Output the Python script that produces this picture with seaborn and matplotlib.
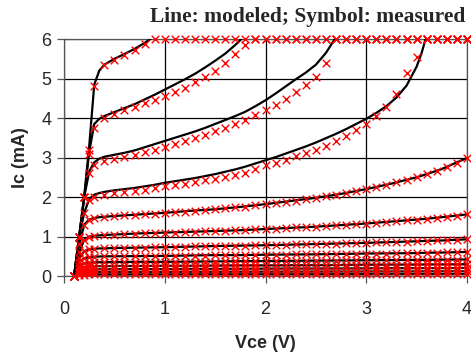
import pandas as pd
import seaborn as sns
import matplotlib.pyplot as plt

# measured sweep (symbols)
vce_meas = [0.1, 0.15, 0.2, 0.25, 0.3,
            0.4, 0.5, 0.6, 0.7, 0.8, 0.9, 1.0, 1.1, 1.2, 1.3,
            1.4, 1.5, 1.6, 1.7, 1.8, 1.9, 2.0, 2.1, 2.2, 2.3,
            2.4, 2.5, 2.6, 2.7, 2.8, 2.9, 3.0, 3.1, 3.2, 3.3,
            3.4, 3.5, 3.6, 3.7, 3.8, 3.9, 4.0]

ic_meas_1 = [0.0, 1.0, 2.0, 3.2, 4.8,
             5.35, 5.48, 5.6, 5.72, 5.88, 6.0, 6.0, 6.0, 6.0, 6.0,
             6.0, 6.0, 6.0, 6.0, 6.0, 6.0, 6.0, 6.0, 6.0, 6.0,
             6.0, 6.0, 6.0, 6.0, 6.0, 6.0, 6.0, 6.0, 6.0, 6.0,
             6.0, 6.0, 6.0, 6.0, 6.0, 6.0, 6.0]
ic_meas_2 = [0.0, 1.0, 2.0, 3.1, 3.75,
             4.0, 4.1, 4.2, 4.28, 4.37, 4.46, 4.56, 4.66, 4.77, 4.9,
             5.03, 5.2, 5.4, 5.62, 5.85, 6.0, 6.0, 6.0, 6.0, 6.0,
             6.0, 6.0, 6.0, 6.0, 6.0, 6.0, 6.0, 6.0, 6.0, 6.0,
             6.0, 6.0, 6.0, 6.0, 6.0, 6.0, 6.0]
ic_meas_3 = [0.0, 1.0, 2.0, 2.6, 2.8,
             2.92, 2.97, 3.02, 3.07, 3.13, 3.2, 3.27, 3.34, 3.42, 3.5,
             3.58, 3.67, 3.76, 3.86, 3.96, 4.07, 4.2, 4.33, 4.48, 4.65,
             4.83, 5.05, 5.4, 6.0, 6.0, 6.0, 6.0, 6.0, 6.0, 6.0,
             6.0, 6.0, 6.0, 6.0, 6.0, 6.0, 6.0]
ic_meas_4 = [0.0, 1.0, 1.6, 1.92, 2.0,
             2.06, 2.1, 2.13, 2.16, 2.19, 2.23, 2.27, 2.3, 2.34, 2.38,
             2.42, 2.46, 2.5, 2.55, 2.61, 2.7, 2.8, 2.87, 2.95, 3.03,
             3.11, 3.2, 3.3, 3.42, 3.55, 3.7, 3.85, 4.05, 4.28, 4.62,
             5.15, 5.55, 6.0, 6.0, 6.0, 6.0, 6.0]
ic_meas_5 = [0.0, 0.8, 1.3, 1.43, 1.47,
             1.5, 1.52, 1.54, 1.55, 1.57, 1.58, 1.6, 1.61, 1.63, 1.65,
             1.67, 1.69, 1.71, 1.74, 1.76, 1.79, 1.82, 1.85, 1.88, 1.91,
             1.95, 1.98, 2.02, 2.06, 2.11, 2.15, 2.2, 2.25, 2.31, 2.37,
             2.43, 2.5, 2.58, 2.66, 2.76, 2.87, 2.99]
ic_meas_6 = [0.0, 0.6, 0.92, 1.0, 1.02,
             1.04, 1.05, 1.06, 1.07, 1.08, 1.09, 1.1, 1.1, 1.11, 1.12,
             1.13, 1.14, 1.15, 1.16, 1.17, 1.18, 1.19, 1.2, 1.21, 1.23,
             1.24, 1.25, 1.27, 1.28, 1.3, 1.31, 1.33, 1.35, 1.37, 1.39,
             1.41, 1.43, 1.45, 1.48, 1.5, 1.53, 1.56]
ic_meas_7 = [0.0, 0.45, 0.63, 0.68, 0.69,
             0.7, 0.71, 0.71, 0.72, 0.72, 0.73, 0.73, 0.74, 0.74, 0.75,
             0.75, 0.76, 0.76, 0.77, 0.77, 0.78, 0.78, 0.79, 0.79, 0.8,
             0.8, 0.81, 0.82, 0.82, 0.83, 0.84, 0.84, 0.85, 0.86, 0.87,
             0.87, 0.88, 0.89, 0.9, 0.91, 0.92, 0.93]
ic_meas_8 = [0.0, 0.35, 0.45, 0.48, 0.49,
             0.5, 0.5, 0.5, 0.51, 0.51, 0.51, 0.51, 0.52, 0.52, 0.52,
             0.52, 0.53, 0.53, 0.53, 0.53, 0.54, 0.54, 0.54, 0.54, 0.55,
             0.55, 0.55, 0.55, 0.56, 0.56, 0.56, 0.57, 0.57, 0.57, 0.58,
             0.58, 0.58, 0.59, 0.59, 0.6, 0.6, 0.61]
ic_meas_9 = [0.0, 0.26, 0.32, 0.34, 0.345,
             0.35, 0.35, 0.35, 0.355, 0.355, 0.355, 0.36, 0.36, 0.36, 0.365,
             0.365, 0.365, 0.37, 0.37, 0.375, 0.375, 0.38, 0.38, 0.38, 0.385,
             0.385, 0.39, 0.39, 0.39, 0.395, 0.395, 0.4, 0.4, 0.4, 0.405,
             0.405, 0.41, 0.41, 0.41, 0.415, 0.415, 0.42]
ic_meas_10 = [0.0, 0.19, 0.23, 0.245, 0.25,
              0.25, 0.25, 0.252, 0.254, 0.255, 0.256, 0.258, 0.26, 0.26, 0.262,
              0.264, 0.265, 0.266, 0.268, 0.27, 0.27, 0.272, 0.274, 0.275, 0.276,
              0.278, 0.28, 0.28, 0.282, 0.284, 0.285, 0.286, 0.288, 0.29, 0.29,
              0.292, 0.294, 0.295, 0.296, 0.298, 0.299, 0.3]
ic_meas_11 = [0.0, 0.13, 0.16, 0.165, 0.17,
              0.17, 0.17, 0.172, 0.173, 0.174, 0.175, 0.176, 0.177, 0.178, 0.179,
              0.18, 0.181, 0.182, 0.183, 0.184, 0.185, 0.186, 0.187, 0.188, 0.189,
              0.19, 0.19, 0.191, 0.192, 0.193, 0.194, 0.195, 0.196, 0.197, 0.198,
              0.199, 0.2, 0.2, 0.201, 0.202, 0.203, 0.205]
ic_meas_12 = [0.0, 0.08, 0.095, 0.1, 0.1,
              0.1, 0.1, 0.101, 0.102, 0.102, 0.103, 0.104, 0.104, 0.105, 0.106,
              0.106, 0.107, 0.108, 0.108, 0.109, 0.11, 0.11, 0.111, 0.111, 0.112,
              0.112, 0.113, 0.113, 0.114, 0.114, 0.115, 0.115, 0.116, 0.116, 0.117,
              0.117, 0.118, 0.118, 0.119, 0.119, 0.12, 0.12]
ic_meas_13 = [0.0, 0.03, 0.038, 0.04, 0.04,
              0.04, 0.04, 0.04, 0.041, 0.041, 0.041, 0.042, 0.042, 0.042, 0.043,
              0.043, 0.043, 0.044, 0.044, 0.044, 0.045, 0.045, 0.045, 0.045, 0.046,
              0.046, 0.046, 0.046, 0.047, 0.047, 0.047, 0.047, 0.048, 0.048, 0.048,
              0.048, 0.049, 0.049, 0.049, 0.049, 0.05, 0.05]

# model curves (lines); the upper four get their own, finer sweeps
vce_model_1 = [0.1, 0.15, 0.2, 0.25, 0.3, 0.35, 0.4, 0.5, 0.6, 0.7, 0.8, 0.9, 1.0]
ic_model_1 = [0.0, 1.0, 2.0, 3.3, 4.85, 5.2, 5.35, 5.5, 5.62, 5.75, 5.9, 6.08, 6.25]

vce_model_2 = [0.1, 0.15, 0.2, 0.25, 0.3, 0.35, 0.4, 0.5, 0.6, 0.7, 0.8, 0.9, 1.0,
               1.1, 1.2, 1.3, 1.4, 1.5, 1.6, 1.7, 1.8, 1.9]
ic_model_2 = [0.0, 1.0, 2.0, 3.15, 3.85, 3.98, 4.05, 4.15, 4.25, 4.35, 4.47, 4.59, 4.72,
              4.85, 4.98, 5.12, 5.28, 5.45, 5.63, 5.85, 6.1, 6.4]

vce_model_3 = [0.1, 0.15, 0.2, 0.25, 0.3, 0.35, 0.4, 0.5, 0.6, 0.7, 0.8, 0.9, 1.0,
               1.1, 1.2, 1.3, 1.4, 1.5, 1.6, 1.7, 1.8, 1.9, 2.0, 2.1, 2.2, 2.3,
               2.4, 2.5, 2.6, 2.7, 2.8]
ic_model_3 = [0.0, 1.0, 2.0, 2.65, 2.88, 2.97, 3.02, 3.07, 3.12, 3.18, 3.26, 3.34, 3.42,
              3.5, 3.58, 3.66, 3.75, 3.85, 3.95, 4.05, 4.16, 4.3, 4.45, 4.62, 4.8, 4.98,
              5.15, 5.35, 5.65, 6.05, 6.5]

vce_model_4 = [0.1, 0.15, 0.2, 0.25, 0.3, 0.35, 0.4, 0.5, 0.6, 0.7, 0.8, 0.9, 1.0,
               1.1, 1.2, 1.3, 1.4, 1.5, 1.6, 1.7, 1.8, 1.9, 2.0, 2.1, 2.2, 2.3,
               2.4, 2.5, 2.6, 2.7, 2.8, 2.9, 3.0, 3.1, 3.2, 3.3, 3.4, 3.5, 3.55, 3.6,
               3.65]
ic_model_4 = [0.0, 1.0, 1.6, 1.95, 2.06, 2.1, 2.13, 2.17, 2.2, 2.23, 2.27, 2.31, 2.36,
              2.4, 2.44, 2.48, 2.53, 2.58, 2.64, 2.7, 2.77, 2.85, 2.93, 3.01, 3.1, 3.19,
              3.28, 3.38, 3.49, 3.6, 3.72, 3.85, 3.98, 4.13, 4.3, 4.52, 4.82, 5.3, 5.65,
              6.1, 6.6]

vce_model = [0.1, 0.15, 0.2, 0.25, 0.3, 0.35, 0.4, 0.5, 0.75, 1.0, 1.25, 1.5,
             1.75, 2.0, 2.25, 2.5, 2.75, 3.0, 3.25, 3.5, 3.6, 3.75, 4.0]
ic_model_5 = [0.0, 0.8, 1.3, 1.43, 1.47, 1.49, 1.5, 1.52, 1.56, 1.6, 1.65, 1.69,
              1.75, 1.82, 1.9, 1.98, 2.08, 2.2, 2.34, 2.5, 2.58, 2.71, 2.99]
ic_model_6 = [0.0, 0.6, 0.92, 1.0, 1.02, 1.03, 1.04, 1.05, 1.08, 1.1, 1.12, 1.14,
              1.16, 1.19, 1.22, 1.25, 1.29, 1.33, 1.38, 1.43, 1.45, 1.49, 1.56]
ic_model_7 = [0.0, 0.45, 0.63, 0.68, 0.69, 0.7, 0.7, 0.71, 0.72, 0.73, 0.745, 0.76,
              0.77, 0.78, 0.795, 0.81, 0.825, 0.84, 0.86, 0.88, 0.89, 0.9, 0.93]
ic_model_8 = [0.0, 0.35, 0.45, 0.48, 0.49, 0.495, 0.5, 0.5, 0.505, 0.51, 0.52, 0.53,
              0.53, 0.54, 0.545, 0.55, 0.56, 0.57, 0.575, 0.58, 0.59, 0.595, 0.61]
ic_model_9 = [0.0, 0.26, 0.32, 0.34, 0.345, 0.35, 0.35, 0.355, 0.36, 0.36, 0.365, 0.37,
              0.375, 0.38, 0.385, 0.39, 0.395, 0.4, 0.405, 0.41, 0.41, 0.415, 0.42]
ic_model_10 = [0.0, 0.19, 0.23, 0.245, 0.25, 0.25, 0.25, 0.255, 0.255, 0.26, 0.26, 0.265,
               0.27, 0.27, 0.275, 0.28, 0.28, 0.285, 0.29, 0.29, 0.295, 0.295, 0.3]
ic_model_11 = [0.0, 0.13, 0.16, 0.165, 0.17, 0.17, 0.17, 0.172, 0.175, 0.177, 0.18, 0.182,
               0.185, 0.187, 0.19, 0.19, 0.192, 0.195, 0.197, 0.2, 0.2, 0.2, 0.205]
ic_model_12 = [0.0, 0.08, 0.095, 0.1, 0.1, 0.1, 0.1, 0.102, 0.104, 0.105, 0.107, 0.108,
               0.11, 0.111, 0.112, 0.113, 0.114, 0.115, 0.116, 0.117, 0.118, 0.119, 0.12]
ic_model_13 = [0.0, 0.03, 0.038, 0.04, 0.04, 0.04, 0.04, 0.041, 0.042, 0.042, 0.043, 0.044,
               0.044, 0.045, 0.045, 0.046, 0.046, 0.047, 0.047, 0.048, 0.048, 0.049, 0.05]

meas_curves = [ic_meas_1, ic_meas_2, ic_meas_3, ic_meas_4, ic_meas_5, ic_meas_6, ic_meas_7,
               ic_meas_8, ic_meas_9, ic_meas_10, ic_meas_11, ic_meas_12, ic_meas_13]
model_curves = [(vce_model_1, ic_model_1), (vce_model_2, ic_model_2),
                (vce_model_3, ic_model_3), (vce_model_4, ic_model_4),
                (vce_model, ic_model_5), (vce_model, ic_model_6), (vce_model, ic_model_7),
                (vce_model, ic_model_8), (vce_model, ic_model_9), (vce_model, ic_model_10),
                (vce_model, ic_model_11), (vce_model, ic_model_12), (vce_model, ic_model_13)]

meas_df = pd.concat([pd.DataFrame({'vce': vce_meas, 'ic': c, 'curve': i})
                     for i, c in enumerate(meas_curves)], ignore_index=True)
model_df = pd.concat([pd.DataFrame({'vce': v, 'ic': c, 'curve': i})
                      for i, (v, c) in enumerate(model_curves)], ignore_index=True)

sns.set_style('white')
plt.rcParams['font.family'] = ['Liberation Sans', 'DejaVu Sans']

fig = plt.figure(figsize=(4.71, 3.53), dpi=100)
ax = fig.add_axes([0.136, 0.218, 0.8555, 0.6715])

sns.lineplot(data=model_df, x='vce', y='ic', units='curve', estimator=None,
             color='black', linewidth=1.6, sort=False, ax=ax, zorder=3)
sns.scatterplot(data=meas_df, x='vce', y='ic', marker='x', color='red',
                s=30, linewidth=1.0, ax=ax, zorder=4, clip_on=False)

ax.set_xlim(0, 4)
ax.set_ylim(0, 6)
ax.set_xticks([0, 1, 2, 3, 4])
ax.set_yticks([0, 1, 2, 3, 4, 5, 6])
ax.grid(True, color='black', linewidth=0.9)
for s in ax.spines.values():
    s.set_color('#555555')
    s.set_linewidth(0.9)
ax.tick_params(axis='both', direction='out', length=5, width=0.9, color='#555555',
               labelsize=13, left=True, bottom=True)
ax.tick_params(axis='x', pad=13)
ax.tick_params(axis='y', pad=4)

ax.set_xlabel('Vce (V)', fontsize=13, fontweight='bold', labelpad=12)
ax.set_ylabel('Ic (mA)', fontsize=13, fontweight='bold', labelpad=9)
fig.text(0.654, 0.938, 'Line: modeled; Symbol: measured', ha='center', va='baseline',
         fontsize=15.5, fontweight='bold', family='Liberation Serif')

fig.savefig('out.png', dpi=100)
